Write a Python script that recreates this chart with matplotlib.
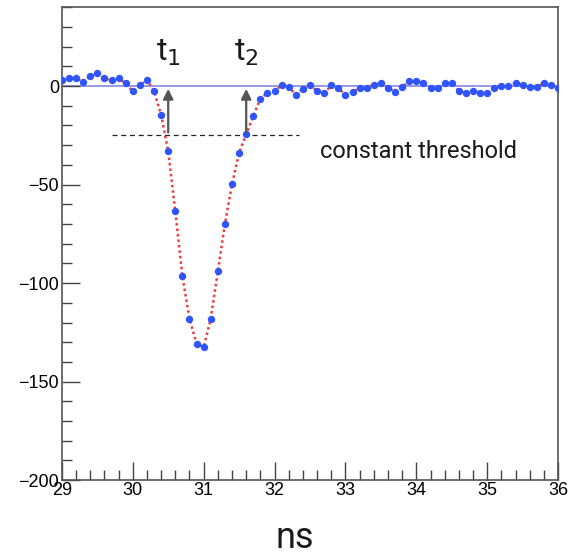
import matplotlib
matplotlib.use("Agg")
import matplotlib.pyplot as plt
from matplotlib.ticker import MultipleLocator
import numpy as np

# sampled waveform, 0.1 ns steps
time_ns = np.round(np.arange(29.0, 36.05, 0.1), 1)
amplitude = [
    3.0, 4.1, 3.9, 2.2, 4.9, 6.4, 3.9, 2.9, 3.9, 1.4,
    -2.7, 0.3, 3.2, -2.7, -14.6, -33.0, -63.6, -96.5, -118.1, -130.8,
    -132.5, -118.1, -94.1, -69.9, -49.9, -33.9, -24.4, -15.2, -6.4, -3.4,
    -2.5, 0.4, -0.6, -4.3, -1.5, 0.3, -2.4, -3.6, 0.3, -1.2,
    -4.4, -3.0, -1.0, -0.8, 0.7, 1.4, -0.8, -2.9, -0.5, 2.5,
    2.5, 1.7, -1.0, -1.2, 1.4, 1.7, -2.4, -3.6, -2.7, -3.4,
    -3.6, -1.0, 0.0, -0.2, 1.5, 0.7, -0.3, -0.3, 1.5, 0.3,
    -1.2,
]
threshold = -25
t1, t2 = 30.5, 31.6
thr_span = [29.7, 32.35]

fig = plt.figure(figsize=(5.73, 5.57), dpi=100)
axs = fig.add_axes([0.108, 0.138, 0.866, 0.849])

# baseline
axs.axhline(0, color="#8588e0", lw=1.2, zorder=1)

# waveform: red dotted curve with blue samples
axs.plot(time_ns, amplitude, color="#ee3b3b", ls=(0, (1, 1.2)), lw=1.8, zorder=2)
axs.plot(time_ns, amplitude, ls="none", marker="o", ms=4.3, color="#2f55ff", zorder=3)

# threshold and crossing arrows
axs.plot(thr_span, [threshold, threshold], color="#222222", ls=(0, (4, 3)), lw=0.9, zorder=2)
for t in [t1, t2]:
    axs.annotate("", xy=(t, 0), xytext=(t, threshold),
                 arrowprops=dict(arrowstyle="-|>,head_length=0.6,head_width=0.3",
                                 color="#555555", lw=1.6), zorder=4)

txt = dict(family=["Roboto", "DejaVu Sans"], color="#1a1a1a")
axs.text(t1, 13, "t$_1$", fontsize=23, ha="center", va="baseline", **txt)
axs.text(t2, 13, "t$_2$", fontsize=23, ha="center", va="baseline", **txt)
axs.text(32.64, -33, "constant threshold", fontsize=17, ha="left", va="center", **txt)
fig.text(0.515, 0.034, "ns", fontsize=26, ha="center", va="center", **txt)

# formatting
axs.set_xlim(29, 36)
axs.set_ylim(-200, 40)
axs.xaxis.set_major_locator(MultipleLocator(1))
axs.xaxis.set_minor_locator(MultipleLocator(0.2))
axs.yaxis.set_major_locator(MultipleLocator(50))
axs.yaxis.set_minor_locator(MultipleLocator(10))
axs.tick_params(which="both", direction="in", colors="#444444", labelcolor="black",
                labelsize=13, top=False, right=False)
axs.tick_params(which="major", length=13, width=1)
axs.tick_params(which="minor", length=7, width=1)
axs.tick_params(axis="x", pad=1)
axs.tick_params(axis="y", pad=2)
for lab in axs.get_xticklabels() + axs.get_yticklabels():
    lab.set_family(["Liberation Sans", "DejaVu Sans"])
for s in axs.spines.values():
    s.set_color("#555555")
    s.set_linewidth(1.2)

fig.savefig("out.png", dpi=100)
